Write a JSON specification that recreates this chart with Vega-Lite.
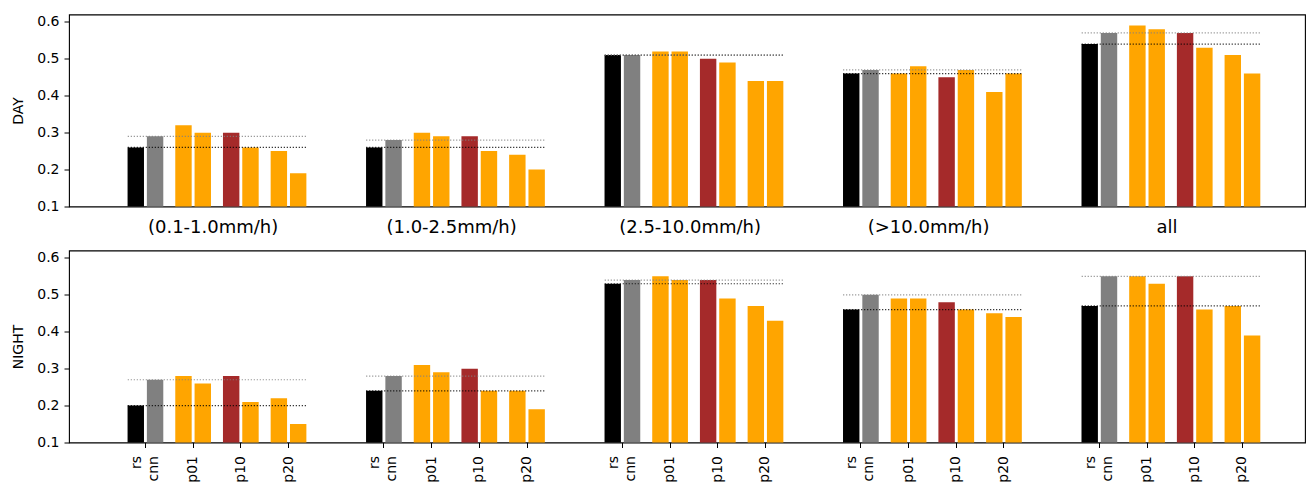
{
  "$schema": "https://vega.github.io/schema/vega-lite/v6.json",
  "background": "white",
  "autosize": {"type": "pad"},
  "padding": {"left": 11, "top": 13.5, "right": 0, "bottom": 0},
  "config": {
    "font": "DejaVu Sans",
    "view": {"stroke": "black", "strokeWidth": 1.1},
    "axis": {
      "domain": false,
      "grid": false,
      "tickColor": "black",
      "tickWidth": 1,
      "labelColor": "black",
      "titleColor": "black",
      "labelFont": "DejaVu Sans",
      "titleFont": "DejaVu Sans",
      "titleFontWeight": "normal"
    }
  },
  "datasets": {
    "scores": [
      {"panel": "DAY", "bin": "(0.1-1.0mm/h)", "pair": "rs", "member": "a", "model": "rs", "v": 0.26},
      {"panel": "DAY", "bin": "(0.1-1.0mm/h)", "pair": "rs", "member": "b", "model": "cnn", "v": 0.29},
      {"panel": "DAY", "bin": "(0.1-1.0mm/h)", "pair": "p01", "member": "a", "model": "p01-a", "v": 0.32},
      {"panel": "DAY", "bin": "(0.1-1.0mm/h)", "pair": "p01", "member": "b", "model": "p01-b", "v": 0.30},
      {"panel": "DAY", "bin": "(0.1-1.0mm/h)", "pair": "p10", "member": "a", "model": "p10-a", "v": 0.30},
      {"panel": "DAY", "bin": "(0.1-1.0mm/h)", "pair": "p10", "member": "b", "model": "p10-b", "v": 0.26},
      {"panel": "DAY", "bin": "(0.1-1.0mm/h)", "pair": "p20", "member": "a", "model": "p20-a", "v": 0.25},
      {"panel": "DAY", "bin": "(0.1-1.0mm/h)", "pair": "p20", "member": "b", "model": "p20-b", "v": 0.19},

      {"panel": "DAY", "bin": "(1.0-2.5mm/h)", "pair": "rs", "member": "a", "model": "rs", "v": 0.26},
      {"panel": "DAY", "bin": "(1.0-2.5mm/h)", "pair": "rs", "member": "b", "model": "cnn", "v": 0.28},
      {"panel": "DAY", "bin": "(1.0-2.5mm/h)", "pair": "p01", "member": "a", "model": "p01-a", "v": 0.30},
      {"panel": "DAY", "bin": "(1.0-2.5mm/h)", "pair": "p01", "member": "b", "model": "p01-b", "v": 0.29},
      {"panel": "DAY", "bin": "(1.0-2.5mm/h)", "pair": "p10", "member": "a", "model": "p10-a", "v": 0.29},
      {"panel": "DAY", "bin": "(1.0-2.5mm/h)", "pair": "p10", "member": "b", "model": "p10-b", "v": 0.25},
      {"panel": "DAY", "bin": "(1.0-2.5mm/h)", "pair": "p20", "member": "a", "model": "p20-a", "v": 0.24},
      {"panel": "DAY", "bin": "(1.0-2.5mm/h)", "pair": "p20", "member": "b", "model": "p20-b", "v": 0.20},

      {"panel": "DAY", "bin": "(2.5-10.0mm/h)", "pair": "rs", "member": "a", "model": "rs", "v": 0.51},
      {"panel": "DAY", "bin": "(2.5-10.0mm/h)", "pair": "rs", "member": "b", "model": "cnn", "v": 0.51},
      {"panel": "DAY", "bin": "(2.5-10.0mm/h)", "pair": "p01", "member": "a", "model": "p01-a", "v": 0.52},
      {"panel": "DAY", "bin": "(2.5-10.0mm/h)", "pair": "p01", "member": "b", "model": "p01-b", "v": 0.52},
      {"panel": "DAY", "bin": "(2.5-10.0mm/h)", "pair": "p10", "member": "a", "model": "p10-a", "v": 0.50},
      {"panel": "DAY", "bin": "(2.5-10.0mm/h)", "pair": "p10", "member": "b", "model": "p10-b", "v": 0.49},
      {"panel": "DAY", "bin": "(2.5-10.0mm/h)", "pair": "p20", "member": "a", "model": "p20-a", "v": 0.44},
      {"panel": "DAY", "bin": "(2.5-10.0mm/h)", "pair": "p20", "member": "b", "model": "p20-b", "v": 0.44},

      {"panel": "DAY", "bin": "(>10.0mm/h)", "pair": "rs", "member": "a", "model": "rs", "v": 0.46},
      {"panel": "DAY", "bin": "(>10.0mm/h)", "pair": "rs", "member": "b", "model": "cnn", "v": 0.47},
      {"panel": "DAY", "bin": "(>10.0mm/h)", "pair": "p01", "member": "a", "model": "p01-a", "v": 0.46},
      {"panel": "DAY", "bin": "(>10.0mm/h)", "pair": "p01", "member": "b", "model": "p01-b", "v": 0.48},
      {"panel": "DAY", "bin": "(>10.0mm/h)", "pair": "p10", "member": "a", "model": "p10-a", "v": 0.45},
      {"panel": "DAY", "bin": "(>10.0mm/h)", "pair": "p10", "member": "b", "model": "p10-b", "v": 0.47},
      {"panel": "DAY", "bin": "(>10.0mm/h)", "pair": "p20", "member": "a", "model": "p20-a", "v": 0.41},
      {"panel": "DAY", "bin": "(>10.0mm/h)", "pair": "p20", "member": "b", "model": "p20-b", "v": 0.46},

      {"panel": "DAY", "bin": "all", "pair": "rs", "member": "a", "model": "rs", "v": 0.54},
      {"panel": "DAY", "bin": "all", "pair": "rs", "member": "b", "model": "cnn", "v": 0.57},
      {"panel": "DAY", "bin": "all", "pair": "p01", "member": "a", "model": "p01-a", "v": 0.59},
      {"panel": "DAY", "bin": "all", "pair": "p01", "member": "b", "model": "p01-b", "v": 0.58},
      {"panel": "DAY", "bin": "all", "pair": "p10", "member": "a", "model": "p10-a", "v": 0.57},
      {"panel": "DAY", "bin": "all", "pair": "p10", "member": "b", "model": "p10-b", "v": 0.53},
      {"panel": "DAY", "bin": "all", "pair": "p20", "member": "a", "model": "p20-a", "v": 0.51},
      {"panel": "DAY", "bin": "all", "pair": "p20", "member": "b", "model": "p20-b", "v": 0.46},

      {"panel": "NIGHT", "bin": "(0.1-1.0mm/h)", "pair": "rs", "member": "a", "model": "rs", "v": 0.20},
      {"panel": "NIGHT", "bin": "(0.1-1.0mm/h)", "pair": "rs", "member": "b", "model": "cnn", "v": 0.27},
      {"panel": "NIGHT", "bin": "(0.1-1.0mm/h)", "pair": "p01", "member": "a", "model": "p01-a", "v": 0.28},
      {"panel": "NIGHT", "bin": "(0.1-1.0mm/h)", "pair": "p01", "member": "b", "model": "p01-b", "v": 0.26},
      {"panel": "NIGHT", "bin": "(0.1-1.0mm/h)", "pair": "p10", "member": "a", "model": "p10-a", "v": 0.28},
      {"panel": "NIGHT", "bin": "(0.1-1.0mm/h)", "pair": "p10", "member": "b", "model": "p10-b", "v": 0.21},
      {"panel": "NIGHT", "bin": "(0.1-1.0mm/h)", "pair": "p20", "member": "a", "model": "p20-a", "v": 0.22},
      {"panel": "NIGHT", "bin": "(0.1-1.0mm/h)", "pair": "p20", "member": "b", "model": "p20-b", "v": 0.15},

      {"panel": "NIGHT", "bin": "(1.0-2.5mm/h)", "pair": "rs", "member": "a", "model": "rs", "v": 0.24},
      {"panel": "NIGHT", "bin": "(1.0-2.5mm/h)", "pair": "rs", "member": "b", "model": "cnn", "v": 0.28},
      {"panel": "NIGHT", "bin": "(1.0-2.5mm/h)", "pair": "p01", "member": "a", "model": "p01-a", "v": 0.31},
      {"panel": "NIGHT", "bin": "(1.0-2.5mm/h)", "pair": "p01", "member": "b", "model": "p01-b", "v": 0.29},
      {"panel": "NIGHT", "bin": "(1.0-2.5mm/h)", "pair": "p10", "member": "a", "model": "p10-a", "v": 0.30},
      {"panel": "NIGHT", "bin": "(1.0-2.5mm/h)", "pair": "p10", "member": "b", "model": "p10-b", "v": 0.24},
      {"panel": "NIGHT", "bin": "(1.0-2.5mm/h)", "pair": "p20", "member": "a", "model": "p20-a", "v": 0.24},
      {"panel": "NIGHT", "bin": "(1.0-2.5mm/h)", "pair": "p20", "member": "b", "model": "p20-b", "v": 0.19},

      {"panel": "NIGHT", "bin": "(2.5-10.0mm/h)", "pair": "rs", "member": "a", "model": "rs", "v": 0.53},
      {"panel": "NIGHT", "bin": "(2.5-10.0mm/h)", "pair": "rs", "member": "b", "model": "cnn", "v": 0.54},
      {"panel": "NIGHT", "bin": "(2.5-10.0mm/h)", "pair": "p01", "member": "a", "model": "p01-a", "v": 0.55},
      {"panel": "NIGHT", "bin": "(2.5-10.0mm/h)", "pair": "p01", "member": "b", "model": "p01-b", "v": 0.54},
      {"panel": "NIGHT", "bin": "(2.5-10.0mm/h)", "pair": "p10", "member": "a", "model": "p10-a", "v": 0.54},
      {"panel": "NIGHT", "bin": "(2.5-10.0mm/h)", "pair": "p10", "member": "b", "model": "p10-b", "v": 0.49},
      {"panel": "NIGHT", "bin": "(2.5-10.0mm/h)", "pair": "p20", "member": "a", "model": "p20-a", "v": 0.47},
      {"panel": "NIGHT", "bin": "(2.5-10.0mm/h)", "pair": "p20", "member": "b", "model": "p20-b", "v": 0.43},

      {"panel": "NIGHT", "bin": "(>10.0mm/h)", "pair": "rs", "member": "a", "model": "rs", "v": 0.46},
      {"panel": "NIGHT", "bin": "(>10.0mm/h)", "pair": "rs", "member": "b", "model": "cnn", "v": 0.50},
      {"panel": "NIGHT", "bin": "(>10.0mm/h)", "pair": "p01", "member": "a", "model": "p01-a", "v": 0.49},
      {"panel": "NIGHT", "bin": "(>10.0mm/h)", "pair": "p01", "member": "b", "model": "p01-b", "v": 0.49},
      {"panel": "NIGHT", "bin": "(>10.0mm/h)", "pair": "p10", "member": "a", "model": "p10-a", "v": 0.48},
      {"panel": "NIGHT", "bin": "(>10.0mm/h)", "pair": "p10", "member": "b", "model": "p10-b", "v": 0.46},
      {"panel": "NIGHT", "bin": "(>10.0mm/h)", "pair": "p20", "member": "a", "model": "p20-a", "v": 0.45},
      {"panel": "NIGHT", "bin": "(>10.0mm/h)", "pair": "p20", "member": "b", "model": "p20-b", "v": 0.44},

      {"panel": "NIGHT", "bin": "all", "pair": "rs", "member": "a", "model": "rs", "v": 0.47},
      {"panel": "NIGHT", "bin": "all", "pair": "rs", "member": "b", "model": "cnn", "v": 0.55},
      {"panel": "NIGHT", "bin": "all", "pair": "p01", "member": "a", "model": "p01-a", "v": 0.55},
      {"panel": "NIGHT", "bin": "all", "pair": "p01", "member": "b", "model": "p01-b", "v": 0.53},
      {"panel": "NIGHT", "bin": "all", "pair": "p10", "member": "a", "model": "p10-a", "v": 0.55},
      {"panel": "NIGHT", "bin": "all", "pair": "p10", "member": "b", "model": "p10-b", "v": 0.46},
      {"panel": "NIGHT", "bin": "all", "pair": "p20", "member": "a", "model": "p20-a", "v": 0.47},
      {"panel": "NIGHT", "bin": "all", "pair": "p20", "member": "b", "model": "p20-b", "v": 0.39}
    ]
  },
  "bounds": "flush",
  "spacing": 44,
  "vconcat": [
    {
      "width": 1236,
      "height": 192,
      "data": {"name": "scores"},
      "transform": [
        {"filter": "datum.panel === 'DAY'"},
        {"calculate": "datum.bin + '|' + datum.pair", "as": "slot"},
        {"calculate": "datum.bin + '|p20'", "as": "slotEnd"}
      ],
      "encoding": {
        "x": {
          "field": "slot",
          "type": "nominal",
          "title": null,
          "sort": null,
          "scale": {
            "type": "band",
            "domain": [
              "(0.1-1.0mm/h)|rs", "(0.1-1.0mm/h)|p01", "(0.1-1.0mm/h)|p10", "(0.1-1.0mm/h)|p20", "gap 1",
              "(1.0-2.5mm/h)|rs", "(1.0-2.5mm/h)|p01", "(1.0-2.5mm/h)|p10", "(1.0-2.5mm/h)|p20", "gap 2",
              "(2.5-10.0mm/h)|rs", "(2.5-10.0mm/h)|p01", "(2.5-10.0mm/h)|p10", "(2.5-10.0mm/h)|p20", "gap 3",
              "(>10.0mm/h)|rs", "(>10.0mm/h)|p01", "(>10.0mm/h)|p10", "(>10.0mm/h)|p20", "gap 4",
              "all|rs", "all|p01", "all|p10", "all|p20"
            ],
            "paddingInner": 0,
            "paddingOuter": 0.957,
            "align": 0.576
          },
          "axis": {
            "values": ["(0.1-1.0mm/h)|p01", "(1.0-2.5mm/h)|p01", "(2.5-10.0mm/h)|p01", "(>10.0mm/h)|p01", "all|p01"],
            "labelExpr": "split(datum.value, '|')[0]",
            "labelAngle": 0,
            "labelFontSize": 18,
            "labelOffset": 20,
            "ticks": false,
            "tickSize": 0,
            "labelPadding": 12
          }
        },
        "y": {
          "field": "v",
          "type": "quantitative",
          "title": "DAY",
          "scale": {"domain": [0.1, 0.62], "nice": false, "zero": false},
          "axis": {"values": [0.1, 0.2, 0.3, 0.4, 0.5, 0.6], "format": ".1f", "labelFontSize": 14, "tickSize": 5, "labelPadding": 5, "titleFontSize": 14, "titlePadding": 11}
        },
        "color": {
          "field": "model",
          "type": "nominal",
          "legend": null,
          "scale": {
            "domain": ["rs", "cnn", "p01-a", "p01-b", "p10-a", "p10-b", "p20-a", "p20-b"],
            "range": ["#000000", "#808080", "#ffa500", "#ffa500", "#a52a2a", "#ffa500", "#ffa500", "#ffa500"]
          }
        }
      },
      "layer": [
        {
          "mark": {"type": "bar", "clip": true},
          "encoding": {
            "xOffset": {
              "field": "member",
              "type": "nominal",
              "scale": {"paddingInner": 0.15, "paddingOuter": 0.31}
            }
          }
        },
        {
          "transform": [{"filter": "datum.pair === 'rs'"}],
          "mark": {"type": "rule", "strokeDash": [1, 2], "strokeWidth": 1.2},
          "encoding": {
            "x": {"field": "slot", "type": "nominal", "bandPosition": 0.13},
            "x2": {"field": "slotEnd", "bandPosition": 0.87}
          }
        }
      ]
    },
    {
      "width": 1236,
      "height": 192,
      "data": {"name": "scores"},
      "transform": [
        {"filter": "datum.panel === 'NIGHT'"},
        {"calculate": "datum.bin + '|' + datum.pair", "as": "slot"},
        {"calculate": "datum.bin + '|p20'", "as": "slotEnd"}
      ],
      "encoding": {
        "x": {
          "field": "slot",
          "type": "nominal",
          "title": null,
          "sort": null,
          "scale": {
            "type": "band",
            "domain": [
              "(0.1-1.0mm/h)|rs", "(0.1-1.0mm/h)|p01", "(0.1-1.0mm/h)|p10", "(0.1-1.0mm/h)|p20", "gap 1",
              "(1.0-2.5mm/h)|rs", "(1.0-2.5mm/h)|p01", "(1.0-2.5mm/h)|p10", "(1.0-2.5mm/h)|p20", "gap 2",
              "(2.5-10.0mm/h)|rs", "(2.5-10.0mm/h)|p01", "(2.5-10.0mm/h)|p10", "(2.5-10.0mm/h)|p20", "gap 3",
              "(>10.0mm/h)|rs", "(>10.0mm/h)|p01", "(>10.0mm/h)|p10", "(>10.0mm/h)|p20", "gap 4",
              "all|rs", "all|p01", "all|p10", "all|p20"
            ],
            "paddingInner": 0,
            "paddingOuter": 0.957,
            "align": 0.576
          },
          "axis": {
            "values": [
              "(0.1-1.0mm/h)|rs", "(0.1-1.0mm/h)|p01", "(0.1-1.0mm/h)|p10", "(0.1-1.0mm/h)|p20",
              "(1.0-2.5mm/h)|rs", "(1.0-2.5mm/h)|p01", "(1.0-2.5mm/h)|p10", "(1.0-2.5mm/h)|p20",
              "(2.5-10.0mm/h)|rs", "(2.5-10.0mm/h)|p01", "(2.5-10.0mm/h)|p10", "(2.5-10.0mm/h)|p20",
              "(>10.0mm/h)|rs", "(>10.0mm/h)|p01", "(>10.0mm/h)|p10", "(>10.0mm/h)|p20",
              "all|rs", "all|p01", "all|p10", "all|p20"
            ],
            "labelExpr": "split(datum.value, '|')[1] === 'rs' ? ['rs', 'cnn'] : split(datum.value, '|')[1]",
            "labelAngle": 270,
            "labelFontSize": 14,
            "labelLineHeight": 17,
            "labelOffset": {"condition": {"test": "split(datum.value, '|')[1] === 'rs'", "value": -8.5}, "value": 0},
            "tickSize": 5,
            "labelPadding": 8
          }
        },
        "y": {
          "field": "v",
          "type": "quantitative",
          "title": "NIGHT",
          "scale": {"domain": [0.1, 0.62], "nice": false, "zero": false},
          "axis": {"values": [0.1, 0.2, 0.3, 0.4, 0.5, 0.6], "format": ".1f", "labelFontSize": 14, "tickSize": 5, "labelPadding": 5, "titleFontSize": 14, "titlePadding": 11}
        },
        "color": {
          "field": "model",
          "type": "nominal",
          "legend": null,
          "scale": {
            "domain": ["rs", "cnn", "p01-a", "p01-b", "p10-a", "p10-b", "p20-a", "p20-b"],
            "range": ["#000000", "#808080", "#ffa500", "#ffa500", "#a52a2a", "#ffa500", "#ffa500", "#ffa500"]
          }
        }
      },
      "layer": [
        {
          "mark": {"type": "bar", "clip": true},
          "encoding": {
            "xOffset": {
              "field": "member",
              "type": "nominal",
              "scale": {"paddingInner": 0.15, "paddingOuter": 0.31}
            }
          }
        },
        {
          "transform": [{"filter": "datum.pair === 'rs'"}],
          "mark": {"type": "rule", "strokeDash": [1, 2], "strokeWidth": 1.2},
          "encoding": {
            "x": {"field": "slot", "type": "nominal", "bandPosition": 0.13},
            "x2": {"field": "slotEnd", "bandPosition": 0.87}
          }
        }
      ]
    }
  ]
}
